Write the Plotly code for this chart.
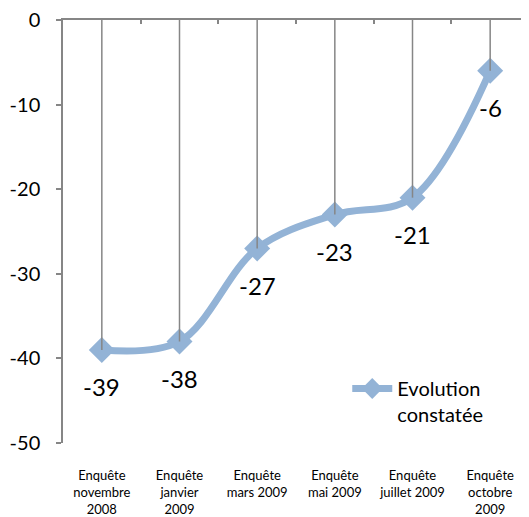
import plotly.graph_objects as go

categories = ["Enquête<br>novembre<br>2008", "Enquête<br>janvier<br>2009", "Enquête<br>mars 2009",
              "Enquête<br>mai 2009", "Enquête<br>juillet 2009", "Enquête<br>octobre<br>2009"]
values = [-39, -38, -27, -23, -21, -6]
series_name = "Evolution<br>constatée"
y_ticks = [0, -10, -20, -30, -40, -50]
y_ticktext = ["0", "-10", "-20", "-30", "-40", "-50"]

LINE = "#93B3D6"
AXIS = "#868686"
FONT = "Lato"

fig = go.Figure()

fig.add_trace(go.Scatter(
    x=categories, y=values, mode="lines+markers", name=series_name,
    line=dict(color=LINE, width=7, shape="spline", smoothing=1.0),
    marker=dict(symbol="diamond", size=20, color=LINE),
    xaxis="x", yaxis="y",
))

# drop lines from the category axis (at 0) to each point
idx = list(range(len(values)))
dx, dy = [], []
for i, v in zip(idx, values):
    dx += [i, i, None]
    dy += [0, v, None]
fig.add_trace(go.Scatter(
    x=dx, y=dy, mode="lines", line=dict(color=AXIS, width=1.5),
    showlegend=False, hoverinfo="skip", xaxis="x2", yaxis="y",
))

for c, v in zip(categories, values):
    fig.add_annotation(x=c, y=v, text=str(v), showarrow=False, yshift=-37,
                       font=dict(family=FONT, size=24, color="black"))

# page body has an 8px margin, so the figure is sized to fill the rest of the window
fig.update_layout(
    width=521, height=509,
    margin=dict(l=55, r=0, t=12, b=74, autoexpand=False),
    paper_bgcolor="white", plot_bgcolor="white",
    font=dict(family=FONT, color="black"),
    showlegend=True,
    legend=dict(x=0.61, y=0.175, xanchor="left", yanchor="top",
                font=dict(family=FONT, size=20, color="black"),
                bgcolor="rgba(0,0,0,0)", valign="top", itemwidth=40),
    xaxis=dict(type="category", range=[-0.5, len(categories) - 0.5], automargin=False,
               showline=False, showgrid=False, zeroline=False, ticks="",
               tickfont=dict(family=FONT, size=13, color="black"),
               ticklabelstandoff=23),
    xaxis2=dict(overlaying="x", side="top", anchor="y", range=[-0.5, len(categories) - 0.5],
                automargin=False,
                showline=True, linecolor=AXIS, linewidth=1.5, showgrid=False, zeroline=False,
                ticks="inside", ticklen=4, tickcolor=AXIS, tickwidth=1.5,
                tickvals=[i + 0.5 for i in idx[:-1]], showticklabels=False),
    yaxis=dict(range=[-50, 0], tickvals=y_ticks, ticktext=y_ticktext, automargin=False,
               showgrid=False, zeroline=False,
               showline=True, linecolor=AXIS, linewidth=1.5,
               ticks="outside", ticklen=5, tickcolor=AXIS, tickwidth=1.5,
               tickfont=dict(family=FONT, size=20, color="black"),
               ticklabelstandoff=12, ticklabeloverflow="allow"),
)

fig.write_html("out.html")
